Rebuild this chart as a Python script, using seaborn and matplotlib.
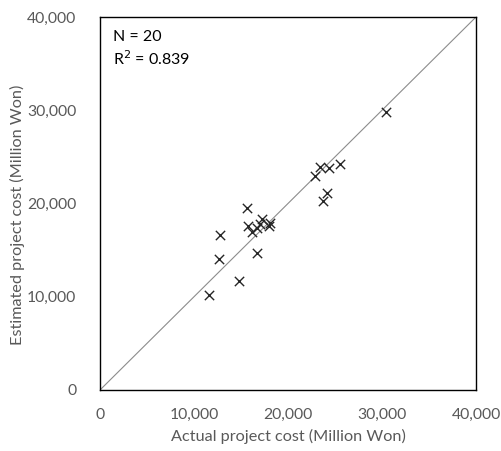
import matplotlib
matplotlib.use('Agg')
import matplotlib.pyplot as plt
import seaborn as sns
import pandas as pd

# Values (Million Won)
actual_cost = [11600, 14800, 12700, 12800, 16700, 15600, 15700, 16200, 16700, 17200,
               17000, 18000, 18100, 22900, 23400, 24400, 25500, 23700, 24200, 30400]
estimated_cost = [10200, 11700, 14100, 16600, 14700, 19500, 17600, 16900, 17400, 18300,
                  17800, 17600, 17900, 23000, 23900, 23800, 24200, 20300, 21100, 29850]
axis_ticks = [0, 10000, 20000, 30000, 40000]
tick_labels = ['0', '10,000', '20,000', '30,000', '40,000']
annotation = 'N = 20\nR$^2$ = 0.839'

df = pd.DataFrame({'Actual': actual_cost, 'Estimated': estimated_cost})

sns.set_theme(style='white')
plt.rcParams['font.family'] = ['Lato', 'DejaVu Sans']

fig = plt.figure(figsize=(5.01, 4.51), dpi=100)
ax = fig.add_axes([0.1996, 0.1353, 0.7505, 0.827])

# y = x reference line
ax.plot([0, 40000], [0, 40000], color='#8c8c8c', linewidth=0.8, zorder=1)

sns.scatterplot(data=df, x='Actual', y='Estimated', marker='x', color='#262626',
                s=45, linewidth=1.0, ax=ax, zorder=2)

ax.set_xlim(0, 40000)
ax.set_ylim(0, 40000)
ax.set_xticks(axis_ticks)
ax.set_xticklabels(tick_labels)
ax.set_yticks(axis_ticks)
ax.set_yticklabels(tick_labels)
ax.tick_params(axis='both', length=0, labelsize=11.3, colors='#595959')
ax.tick_params(axis='x', pad=13)
ax.tick_params(axis='y', pad=17)

ax.set_xlabel('Actual project cost (Million Won)', fontsize=11.7, color='#595959', labelpad=5)
ax.set_ylabel('Estimated project cost (Million Won)', fontsize=11.7, color='#595959', labelpad=5)
ax.yaxis.set_label_coords(-0.2, 0.47)

for spine in ax.spines.values():
    spine.set_color('black')
    spine.set_linewidth(1.0)

ax.text(0.035, 0.965, annotation, transform=ax.transAxes, fontsize=11.5,
        color='black', va='top', ha='left', linespacing=1.35)

fig.savefig('out.png', dpi=100)
